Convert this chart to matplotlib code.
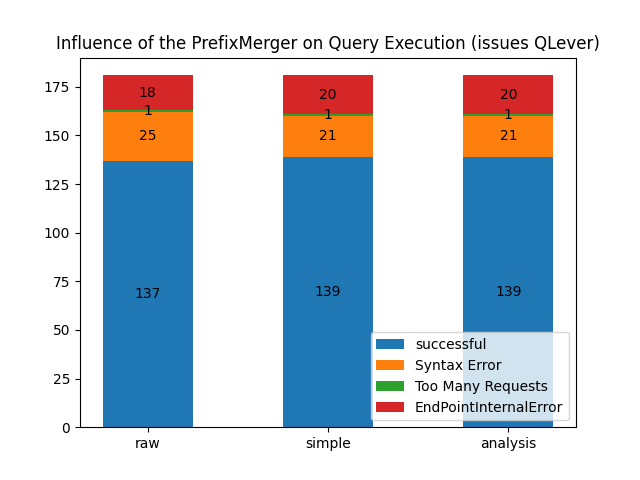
import matplotlib
matplotlib.use("Agg")
import matplotlib.pyplot as plt
import numpy as np

modes = ["raw", "simple", "analysis"]
successful = [137, 139, 139]
syntax_error = [25, 21, 21]
too_many = [1, 1, 1]
internal_error = [18, 20, 20]

series = {
    "successful": successful,
    "Syntax Error": syntax_error,
    "Too Many Requests": too_many,
    "EndPointInternalError": internal_error,
}

fig, ax = plt.subplots(figsize=(6.4, 4.8), dpi=100)

bottom = np.zeros(len(modes))
for name, vals in series.items():
    bars = ax.bar(modes, vals, 0.5, label=name, bottom=bottom)
    ax.bar_label(bars, label_type="center")
    bottom += vals

ax.set_title("Influence of the PrefixMerger on Query Execution (issues QLever)")
ax.legend(loc="lower right")
fig.savefig("out.png")
